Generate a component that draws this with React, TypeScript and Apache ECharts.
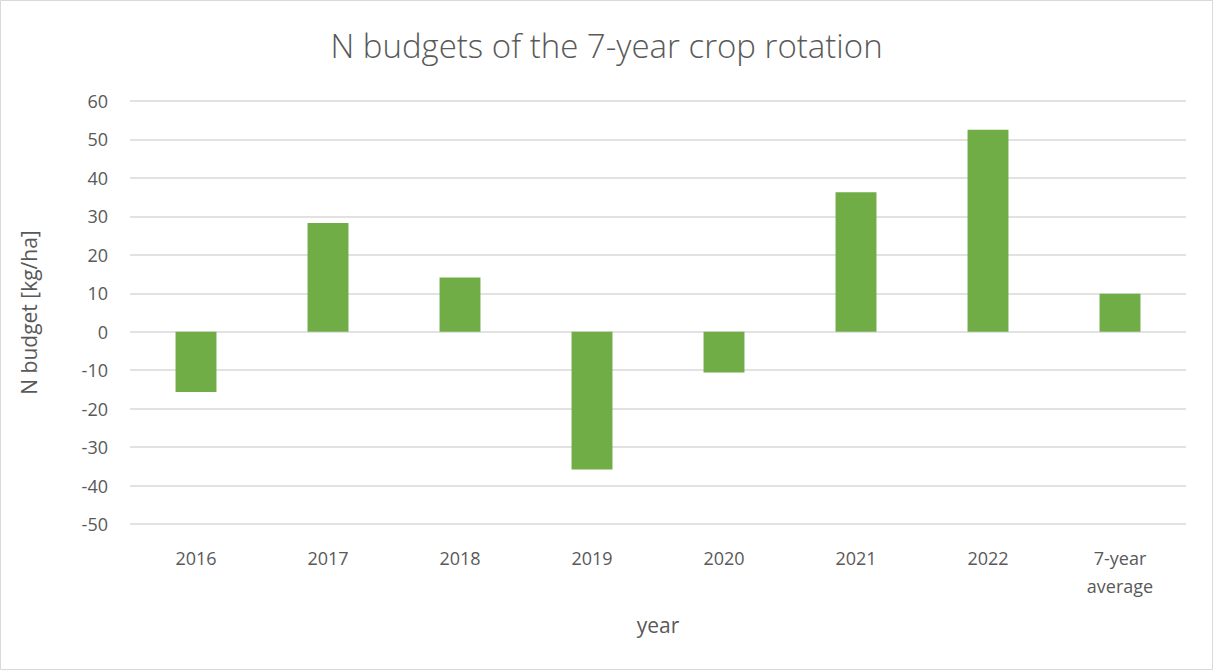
import React, { useEffect, useRef } from "react";
import * as echarts from "echarts";

const categories = ["2016", "2017", "2018", "2019", "2020", "2021", "2022", "7-year\naverage"];
const values = [-15.7, 28.3, 14.1, -35.8, -10.6, 36.3, 52.5, 9.9];
const yMin = -50;
const yMax = 60;
const yInterval = 10;

const FONT = "'Open Sans', 'Noto Sans', sans-serif";
const GRAY = "#595959";

export default function App() {
  const ref = useRef<HTMLDivElement>(null);
  useEffect(() => {
    if (!ref.current) return;
    const chart = echarts.init(ref.current, null, { renderer: "svg" });
    chart.setOption({
      animation: false,
      backgroundColor: "#ffffff",
      title: {
        text: "N budgets of the 7-year crop rotation",
        left: "center",
        top: 24,
        textStyle: { fontFamily: FONT, fontSize: 33, fontWeight: 300, color: GRAY },
      },
      graphic: [
        {
          type: "rect",
          shape: { x: 0.5, y: 0.5, width: 1212, height: 669 },
          style: { fill: "none", stroke: "#d9d9d9", lineWidth: 1 },
          silent: true,
        },
      ],
      grid: { left: 130, right: 27, top: 101, bottom: 146 },
      xAxis: {
        type: "category",
        data: categories,
        name: "year",
        nameLocation: "middle",
        nameGap: 90,
        nameTextStyle: { fontFamily: FONT, fontSize: 21, color: GRAY },
        axisLine: { show: false },
        axisTick: { show: false },
        axisLabel: {
          fontFamily: FONT,
          fontSize: 18,
          color: GRAY,
          margin: 20,
          lineHeight: 28,
          interval: 0,
        },
      },
      yAxis: {
        type: "value",
        min: yMin,
        max: yMax,
        interval: yInterval,
        name: "N budget [kg/ha]",
        nameLocation: "middle",
        nameRotate: 90,
        nameGap: 91,
        nameTextStyle: { fontFamily: FONT, fontSize: 21, color: GRAY },
        axisLine: { show: false },
        axisTick: { show: false },
        axisLabel: { fontFamily: FONT, fontSize: 18, color: GRAY, margin: 22 },
        splitLine: { show: true, lineStyle: { color: "#d9d9d9", width: 1.5 } },
      },
      series: [
        {
          type: "bar",
          data: values,
          barWidth: "31%",
          itemStyle: { color: "#70ad47" },
        },
      ],
    });
    return () => chart.dispose();
  }, []);
  return (
    <div
      ref={ref}
      style={{ position: "fixed", left: 0, top: 0, width: 1213, height: 670 }}
    />
  );
}
